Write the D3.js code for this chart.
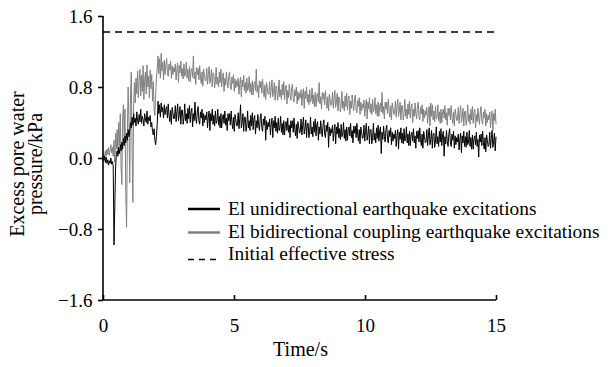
<!DOCTYPE html>
<html><head><meta charset="utf-8">
<script src="https://cdn.jsdelivr.net/npm/d3@7"></script>
<style>body{margin:0;background:#fff}svg{display:block}text{font-family:"Liberation Serif","Times New Roman",serif;fill:#000}</style>
</head><body><div id="chart"></div>
<script>
const duration = 15;
const xTicks = [0, 5, 10, 15];
const yTicks = [1.6, 0.8, 0.0, -0.8, -1.6];
const yTickLabels = ["1.6", "0.8", "0.0", "\u22120.8", "\u22121.6"];
const initialStress = 1.42;
const seriesNames = ["El unidirectional earthquake excitations", "El bidirectional coupling earthquake excitations", "Initial effective stress"];

// sampled every 0.03 s from 0 to 15 s
const unidirectional = [
0.00,-0.03,0.02,-0.05,0.01,-0.06,-0.02,-0.08,-0.03,-0.06,0.00,-0.07,-0.04,-0.09,
-0.98,-0.55,-0.10,0.04,
0.08,0.02,0.12,0.05,0.15,0.08,0.18,0.10,0.22,0.14,0.25,0.17,0.28,0.20,0.32,0.24,
0.30,0.40,0.34,0.46,0.37,0.50,0.40,0.45,0.36,0.52,0.42,0.38,0.49,0.41,0.55,0.39,0.47,0.43,0.36,0.50,0.44,0.40,0.53,0.38,0.46,0.42,0.48,
0.35,0.40,0.30,0.26,0.33,0.20,0.15,0.24,0.38,
0.64,0.50,0.60,0.46,0.62,0.52,0.57,0.45,0.60,0.49,0.55,
0.58,0.45,0.61,0.48,0.41,0.54,0.38,0.57,0.51,0.44,
0.45,0.59,0.41,0.52,0.61,0.42,0.48,0.58,0.38,0.54,
0.54,0.38,0.45,0.61,0.42,0.50,0.39,0.56,0.44,0.59,
0.40,0.52,0.56,0.35,0.50,0.42,0.63,0.45,0.39,0.53,
0.58,0.42,0.38,0.52,0.45,0.55,0.36,0.50,0.40,0.48,
0.43,0.52,0.34,0.46,0.53,0.31,0.50,0.42,0.55,0.38,
0.48,0.36,0.53,0.39,0.42,0.55,0.37,0.47,0.34,0.50,
0.34,0.46,0.49,0.39,0.53,0.37,0.45,0.31,0.50,0.42,
0.50,0.37,0.53,0.40,0.33,0.46,0.30,0.49,0.43,0.36,
0.37,0.51,0.33,0.44,0.60,0.34,0.40,0.50,0.30,0.46,
0.46,0.30,0.37,0.53,0.34,0.42,0.31,0.48,0.36,0.51,
0.32,0.44,0.48,0.27,0.42,0.34,0.49,0.37,0.31,0.45,
0.50,0.34,0.30,0.44,0.37,0.47,0.20,0.42,0.32,0.40,
0.35,0.44,0.26,0.38,0.45,0.23,0.42,0.34,0.47,0.30,
0.40,0.28,0.45,0.31,0.34,0.47,0.29,0.39,0.26,0.42,
0.26,0.38,0.41,0.31,0.45,0.29,0.37,0.23,0.42,0.34,
0.42,0.29,0.45,0.32,0.25,0.38,0.22,0.41,0.35,0.28,
0.30,0.44,0.26,0.37,0.46,0.27,0.33,0.43,0.23,0.39,
0.39,0.23,0.30,0.46,0.27,0.35,0.24,0.41,0.29,0.44,
0.25,0.37,0.41,0.20,0.35,0.27,0.42,0.30,0.24,0.38,
0.43,0.27,0.23,0.37,0.30,0.40,0.12,0.35,0.25,0.33,
0.28,0.37,0.19,0.31,0.38,0.16,0.35,0.27,0.40,0.23,
0.33,0.21,0.38,0.24,0.27,0.40,0.22,0.32,0.19,0.35,
0.20,0.32,0.35,0.25,0.39,0.23,0.31,0.17,0.36,0.28,
0.36,0.23,0.39,0.26,0.19,0.32,0.16,0.35,0.29,0.22,
0.23,0.37,0.19,0.30,0.39,0.20,0.26,0.36,0.16,0.32,
0.32,0.16,0.23,0.39,0.20,0.28,0.17,0.34,0.22,0.37,
0.19,0.31,0.35,0.05,0.29,0.21,0.36,0.24,0.18,0.32,
0.37,0.21,0.17,0.31,0.24,0.34,0.15,0.29,0.19,0.27,
0.22,0.31,0.13,0.25,0.32,0.10,0.29,0.21,0.34,0.17,
0.28,0.16,0.33,0.19,0.22,0.35,0.17,0.27,0.14,0.30,
0.14,0.26,0.29,0.19,0.33,0.17,0.25,0.11,0.30,0.22,
0.31,0.18,0.34,0.21,0.14,0.27,0.11,0.30,0.24,0.17,
0.18,0.32,0.14,0.25,0.34,0.15,0.21,0.31,0.11,0.27,
0.28,0.12,0.19,0.35,0.16,0.24,0.13,0.30,0.18,0.33,
0.14,0.26,0.30,0.02,0.24,0.16,0.31,0.19,0.13,0.27,
0.33,0.17,0.13,0.27,0.20,0.30,0.11,0.25,0.15,0.23,
0.18,0.27,0.09,0.21,0.28,0.06,0.25,0.17,0.30,0.13,
0.24,0.12,0.29,0.15,0.18,0.31,0.13,0.23,0.10,0.26,
0.10,0.22,0.25,0.15,0.29,0.13,0.21,0.01,0.26,0.18,
0.27,0.14,0.30,0.17,0.10,0.23,0.07,0.26,0.20,0.13,
0.15,0.29,0.11,0.22,0.31,0.12,0.18,0.28,0.08,0.24
];

const bidirectional = [
0.00,0.05,-0.02,0.08,0.02,0.10,0.04,0.12,0.03,0.09,0.15,0.06,0.12,0.02,
0.20,-0.05,0.28,0.10,0.32,0.05,0.40,0.15,0.50,-0.10,-0.30,0.45,0.60,0.20,0.55,-0.40,-0.78,0.30,0.80,0.40,-0.28,0.70,0.97,0.10,-0.50,0.60,0.85,
0.62,0.90,0.72,0.98,0.68,0.85,1.00,0.70,0.93,0.75,1.04,0.66,0.88,0.97,0.72,1.05,0.80,0.92,0.68,0.99,0.78,0.94,0.64,0.86,
0.55,0.48,0.70,0.90,1.02,
1.15,0.95,1.12,0.90,1.18,0.98,1.08,0.88,1.10,0.94,1.05,
1.12,0.96,0.92,1.06,0.99,1.09,0.90,1.04,0.94,1.02,
0.97,1.06,0.88,1.00,1.07,0.85,1.04,0.96,1.09,0.92,
1.01,0.89,1.06,0.92,0.95,1.08,0.90,1.00,0.87,1.03,
0.86,0.98,1.01,0.91,1.15,0.89,0.97,0.83,1.02,0.94,
1.01,0.88,1.04,0.91,0.84,0.97,0.81,1.00,0.94,0.87,
0.87,1.01,0.83,0.94,1.03,0.84,0.90,1.00,0.80,0.96,
0.95,0.79,0.86,1.02,0.83,0.91,0.80,0.97,0.85,1.00,
0.80,0.92,0.96,0.75,0.90,0.82,0.97,0.85,0.79,0.93,
0.97,0.81,0.77,0.91,0.84,0.94,0.75,0.89,0.79,0.87,
0.81,0.90,0.72,0.84,0.91,0.69,0.88,0.80,0.93,0.76,
0.85,0.73,0.90,0.76,0.79,0.92,0.74,0.84,0.71,0.87,
0.71,0.83,0.86,0.76,1.00,0.74,0.82,0.68,0.87,0.79,
0.86,0.73,0.89,0.76,0.69,0.82,0.66,0.85,0.79,0.72,
0.72,0.86,0.68,0.79,0.88,0.69,0.75,0.85,0.65,0.81,
0.81,0.65,0.72,0.88,0.69,0.77,0.66,0.83,0.71,0.86,
0.66,0.78,0.82,0.61,0.76,0.68,0.83,0.71,0.65,0.79,
0.83,0.67,0.63,0.77,0.70,0.80,0.61,0.75,0.65,0.73,
0.68,0.77,0.59,0.71,0.78,0.56,0.75,0.67,0.80,0.63,
0.72,0.60,0.77,0.63,0.66,0.79,0.61,0.71,0.58,0.74,
0.58,0.70,0.73,0.63,0.85,0.61,0.69,0.55,0.74,0.66,
0.73,0.60,0.76,0.63,0.56,0.69,0.53,0.72,0.66,0.59,
0.60,0.74,0.56,0.67,0.76,0.57,0.63,0.73,0.53,0.69,
0.68,0.52,0.59,0.75,0.56,0.64,0.53,0.70,0.58,0.73,
0.54,0.66,0.70,0.49,0.64,0.56,0.71,0.59,0.53,0.67,
0.71,0.55,0.51,0.65,0.58,0.68,0.49,0.63,0.53,0.61,
0.56,0.65,0.47,0.59,0.66,0.44,0.63,0.55,0.68,0.51,
0.61,0.49,0.66,0.52,0.55,0.68,0.50,0.60,0.47,0.63,
0.47,0.59,0.62,0.52,0.74,0.50,0.58,0.44,0.63,0.55,
0.63,0.50,0.66,0.53,0.46,0.59,0.43,0.62,0.56,0.49,
0.50,0.64,0.46,0.57,0.66,0.47,0.53,0.63,0.43,0.59,
0.59,0.43,0.50,0.66,0.47,0.55,0.44,0.61,0.49,0.64,
0.45,0.57,0.61,0.40,0.55,0.47,0.62,0.50,0.44,0.58,
0.63,0.47,0.43,0.57,0.50,0.60,0.41,0.55,0.45,0.53,
0.48,0.57,0.39,0.51,0.58,0.36,0.62,0.47,0.60,0.43,
0.53,0.41,0.58,0.44,0.47,0.60,0.42,0.52,0.39,0.55,
0.40,0.52,0.55,0.45,0.59,0.43,0.51,0.37,0.56,0.48,
0.56,0.43,0.59,0.46,0.39,0.52,0.36,0.55,0.49,0.42,
0.43,0.57,0.39,0.50,0.59,0.40,0.46,0.56,0.36,0.52,
0.53,0.37,0.44,0.60,0.41,0.49,0.38,0.55,0.43,0.58,
0.39,0.51,0.55,0.34,0.49,0.41,0.56,0.44,0.38,0.52,
0.58,0.42,0.38,0.52,0.45,0.55,0.36,0.50,0.40,0.48,
0.43,0.52,0.34,0.46,0.53,0.31,0.50,0.42,0.55,0.38
];

const W = 609, H = 367;
const svg = d3.select("#chart").append("svg").attr("width", W).attr("height", H);
const x = d3.scaleLinear().domain([0, duration]).range([103, 496]);
const y = d3.scaleLinear().domain([-1.6, 1.6]).range([300, 16]);

function toPoints(arr){ return arr.map((v,i)=>[i*duration/(arr.length-1), v]); }
const line = d3.line().x(d=>x(d[0])).y(d=>y(d[1]));

svg.append("line").attr("x1", x(0)).attr("x2", x(duration)).attr("y1", y(initialStress)).attr("y2", y(initialStress))
  .attr("stroke","#000").attr("stroke-width",1.3).attr("stroke-dasharray","7,5");

svg.append("path").datum(toPoints(bidirectional)).attr("d", line).attr("fill","none").attr("stroke","#808080").attr("stroke-width",1);
svg.append("path").datum(toPoints(unidirectional)).attr("d", line).attr("fill","none").attr("stroke","#000").attr("stroke-width",1);

const xAxis = d3.axisBottom(x).tickValues(xTicks).tickSize(-5).tickFormat(d3.format("d"));
const gx = svg.append("g").attr("transform", `translate(0,${y(-1.6)})`).call(xAxis);
gx.select(".domain").attr("d", `M${x(0)},0H${x(duration)}`).attr("stroke-width",1.6);
gx.selectAll(".tick line").attr("stroke-width",1.6);
gx.selectAll(".tick text").attr("font-size",19).attr("y",31.5).attr("dy",null);

const yAxis = d3.axisLeft(y).tickValues(yTicks).tickSize(5).tickPadding(5.5).tickFormat((d,i)=>yTickLabels[i]);
const gy = svg.append("g").attr("transform", `translate(${x(0)},0)`).call(yAxis);
gy.select(".domain").attr("d", `M0,${y(1.6)}V${y(-1.6)}`).attr("stroke-width",1.6);
gy.selectAll(".tick line").attr("stroke-width",1.6);
gy.selectAll(".tick text").attr("font-size",19).attr("dy","0.36em");

svg.append("text").attr("x", 300.5).attr("y", 356).attr("text-anchor","middle").attr("font-size",20).text("Time/s");
const yt = svg.append("text").attr("transform","translate(0,164) rotate(-90)").attr("text-anchor","middle").attr("font-size",20);
yt.append("tspan").attr("x",0).attr("y",24).text("Excess pore water");
yt.append("tspan").attr("x",0).attr("y",41.5).text("pressure/kPa");

const leg = [
  {name: seriesNames[0], color:"#000", dash:null, ly:209, ty:215},
  {name: seriesNames[1], color:"#808080", dash:null, ly:232.5, ty:237.5},
  {name: seriesNames[2], color:"#000", dash:"6,5", ly:259.5, ty:260}
];
const lg = svg.append("g");
leg.forEach(l=>{
  lg.append("line").attr("x1",188).attr("x2",220).attr("y1",l.ly).attr("y2",l.ly)
    .attr("stroke",l.color).attr("stroke-width", l.dash?1.4:2.5).attr("stroke-dasharray", l.dash);
  lg.append("text").attr("x",228).attr("y",l.ty).attr("font-size",19.4).text(l.name);
});
</script></body></html>
